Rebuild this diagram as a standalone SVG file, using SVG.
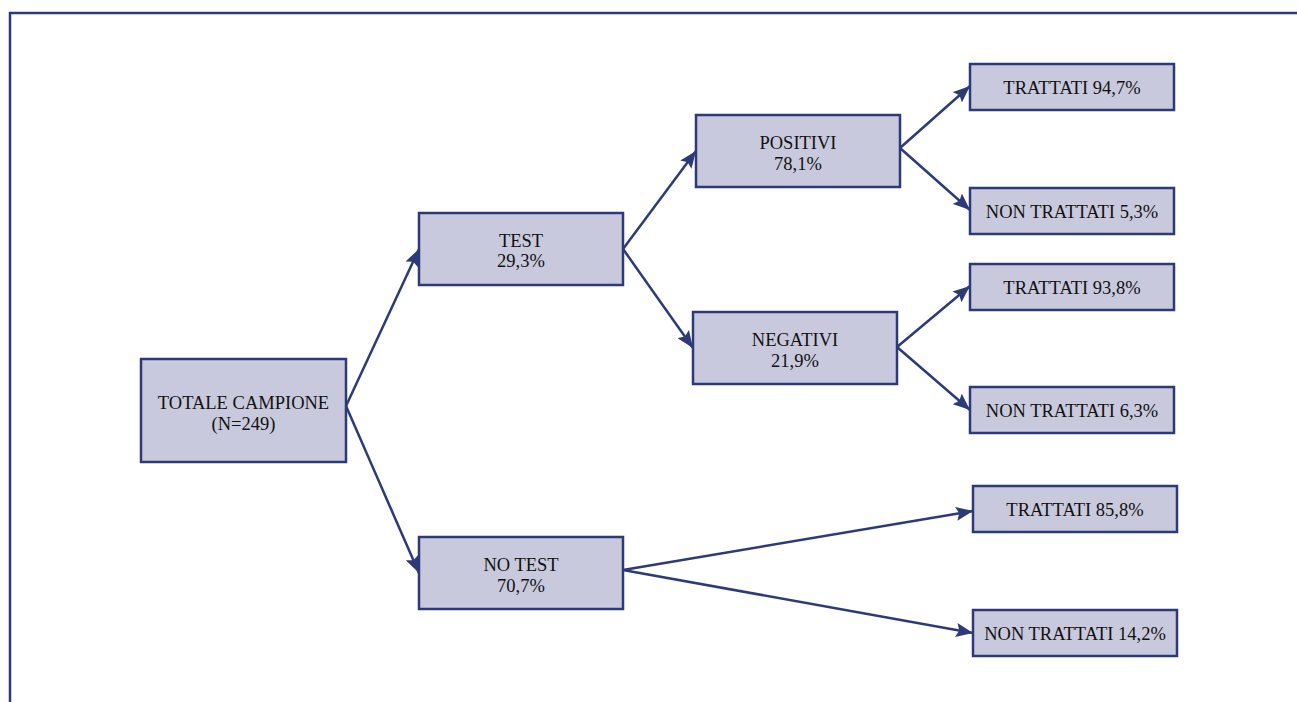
<svg xmlns="http://www.w3.org/2000/svg" width="1297" height="702" viewBox="0 0 1297 702">
<style>
.box{fill:#c8c9dc;stroke:#2c3a78;stroke-width:2.5}
.t{font-family:"Liberation Serif",serif;font-size:18.5px;fill:#111;text-anchor:middle}
.c{fill:none;stroke:#2c3a78;stroke-width:2.5;marker-end:url(#ah)}
</style>
<defs>
<marker id="ah" markerUnits="userSpaceOnUse" markerWidth="18" markerHeight="14" refX="17" refY="7" orient="auto">
<path d="M0,0 L17,7 L0,14 L3,7 Z" fill="#2c3a78"/>
</marker>
</defs>
<rect width="1297" height="702" fill="#fff"/>
<path d="M10,702 V13 H1297" fill="none" stroke="#2c3a78" stroke-width="2.5"/>
<g id="connectors">
<path class="c" d="M346,406 L419,249"/>
<path class="c" d="M346,406 L419,573"/>
<path class="c" d="M623,249 L696,151"/>
<path class="c" d="M623,249 L693,348"/>
<path class="c" d="M900,148 L970,86"/>
<path class="c" d="M900,148 L970,210"/>
<path class="c" d="M897,347 L970,286"/>
<path class="c" d="M897,347 L970,410"/>
<path class="c" d="M623,570 L973,511"/>
<path class="c" d="M623,570 L973,633"/>
</g>
<g id="totale"><rect class="box" x="141" y="359" width="205" height="103"/><text class="t" x="243.5" y="409">TOTALE CAMPIONE</text><text class="t" x="243.5" y="430">(N=249)</text></g>
<g id="test"><rect class="box" x="419" y="213" width="204" height="72"/><text class="t" x="521" y="247">TEST</text><text class="t" x="521" y="267">29,3%</text></g>
<g id="notest"><rect class="box" x="419" y="537" width="204" height="72"/><text class="t" x="521" y="571">NO TEST</text><text class="t" x="521" y="592">70,7%</text></g>
<g id="positivi"><rect class="box" x="696" y="115" width="204" height="72"/><text class="t" x="798" y="149">POSITIVI</text><text class="t" x="798" y="170">78,1%</text></g>
<g id="negativi"><rect class="box" x="693" y="312" width="204" height="72"/><text class="t" x="795" y="346">NEGATIVI</text><text class="t" x="795" y="367">21,9%</text></g>
<g id="pt"><rect class="box" x="970" y="64" width="204" height="46"/><text class="t" x="1072" y="94">TRATTATI 94,7%</text></g>
<g id="pnt"><rect class="box" x="970" y="188" width="204" height="46"/><text class="t" x="1072" y="218">NON TRATTATI 5,3%</text></g>
<g id="nt"><rect class="box" x="970" y="264" width="204" height="46"/><text class="t" x="1072" y="294">TRATTATI 93,8%</text></g>
<g id="nnt"><rect class="box" x="970" y="387" width="204" height="46"/><text class="t" x="1072" y="417">NON TRATTATI 6,3%</text></g>
<g id="xt"><rect class="box" x="973" y="486" width="204" height="46"/><text class="t" x="1075" y="516">TRATTATI 85,8%</text></g>
<g id="xnt"><rect class="box" x="973" y="610" width="204" height="46"/><text class="t" x="1075" y="640">NON TRATTATI 14,2%</text></g>
</svg>
